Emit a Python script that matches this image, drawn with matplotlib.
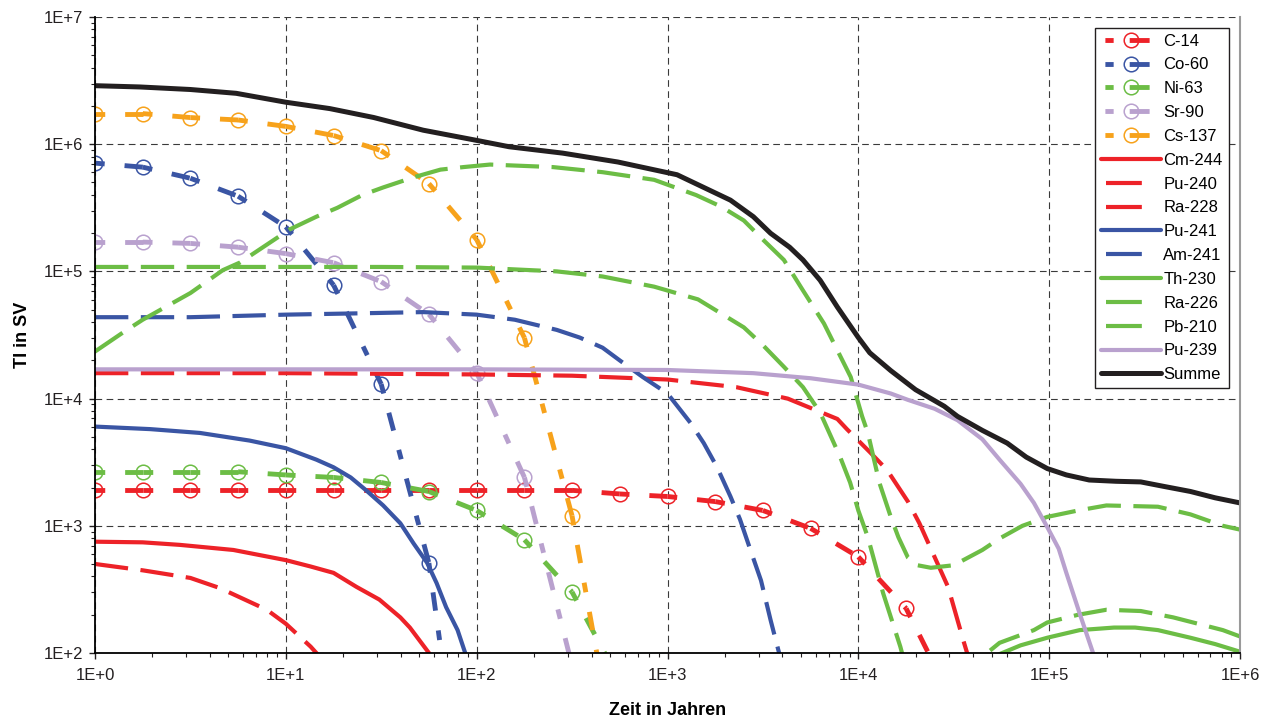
#!/usr/bin/env python3
import numpy as np
import matplotlib
matplotlib.use('Agg')
import matplotlib.pyplot as plt
from matplotlib.lines import Line2D
from matplotlib.ticker import FixedLocator, LogLocator, NullFormatter

plt.rcParams['font.family'] = ['Liberation Sans', 'DejaVu Sans']

# ---------------------------------------------------------------- data
# circle series: values on a quarter-decade time grid (years, SV)
t_grid = [1, 1.78, 3.16, 5.62, 10, 17.8, 31.6, 56.2, 100, 178, 316, 562,
          1000, 1780, 3160, 5620, 10000, 17800, 31600]

c14 = [1900, 1900, 1900, 1900, 1900, 1900, 1900, 1900, 1900, 1900, 1900,
       1780, 1700, 1550, 1320, 955, 570, 224, 40]
co60 = [710000, 660000, 540000, 390000, 224000, 78000, 13000, 510, 1]
ni63 = [2660, 2660, 2660, 2660, 2510, 2400, 2190, 1860, 1320, 776, 302, 60]
sr90 = [170000, 170000, 166000, 155000, 138000, 117000, 83000, 46000,
        16000, 2400, 80]
cs137 = [1740000, 1740000, 1620000, 1550000, 1380000, 1170000, 890000,
         490000, 178000, 30000, 1200, 10]

# line series, read as log10(years) / log10(SV)
cm244_lt = [0, 0.25, 0.445, 0.725, 1.0, 1.13, 1.25, 1.37, 1.49, 1.60, 1.65, 1.75, 1.85]
cm244_lv = [2.875, 2.87, 2.85, 2.81, 2.73, 2.68, 2.63, 2.52, 2.42, 2.28, 2.20, 2.0, 1.75]

pu240_lt = [0, 1, 2, 2.5, 3, 3.36, 3.63, 3.89, 3.94, 4.06, 4.15, 4.26, 4.32,
            4.47, 4.55, 4.62]
pu240_lv = [4.20, 4.20, 4.19, 4.18, 4.15, 4.09, 4.0, 3.84, 3.76, 3.58, 3.44,
            3.19, 3.02, 2.52, 2.10, 1.75]

ra228_lt = [0, 0.25, 0.5, 0.655, 0.90, 1.0, 1.13, 1.25]
ra228_lv = [2.70, 2.65, 2.59, 2.51, 2.34, 2.23, 2.05, 1.85]

pu241_lt = [0, 0.29, 0.55, 0.81, 1.0, 1.16, 1.25, 1.34, 1.42, 1.51, 1.60,
            1.67, 1.74, 1.79, 1.84, 1.90, 1.94, 1.98]
pu241_lv = [3.78, 3.76, 3.73, 3.67, 3.61, 3.52, 3.46, 3.38, 3.28, 3.16, 3.02,
            2.86, 2.71, 2.55, 2.36, 2.18, 2.0, 1.8]

am241_lt = [0, 0.5, 1.0, 1.37, 1.72, 2.0, 2.2, 2.42, 2.54, 2.66, 2.75, 2.87,
            3.0, 3.12, 3.19, 3.26, 3.33, 3.38, 3.43, 3.49, 3.54, 3.59, 3.65]
am241_lv = [4.64, 4.64, 4.66, 4.67, 4.68, 4.66, 4.62, 4.54, 4.48, 4.40, 4.30,
            4.17, 4.04, 3.81, 3.65, 3.46, 3.23, 3.05, 2.83, 2.57, 2.26, 1.97, 1.7]

th230_lt = [4.6, 4.69, 4.85, 4.99, 5.16, 5.34, 5.45, 5.57, 5.74, 5.87, 6.0]
th230_lv = [1.85, 1.96, 2.06, 2.12, 2.18, 2.20, 2.20, 2.18, 2.12, 2.07, 2.01]

ra226_lt = [0, 1, 1.5, 2.0, 2.42, 2.66, 2.93, 3.16, 3.40, 3.50, 3.61, 3.71,
            3.80, 3.905, 3.957, 4.0, 4.05, 4.13, 4.22, 4.3, 4.4, 4.5, 4.6,
            4.65, 4.74, 4.92, 4.99, 5.15, 5.30, 5.48, 5.65, 5.91, 6.0]
ra226_lv = [5.035, 5.035, 5.035, 5.03, 5.0, 4.96, 4.88, 4.78, 4.56, 4.42,
            4.25, 4.09, 3.89, 3.54, 3.34, 3.12, 2.91, 2.47, 2.05, 1.6, 1.4,
            1.6, 1.88, 1.97, 2.08, 2.18, 2.24, 2.30, 2.34, 2.33, 2.28, 2.18, 2.13]

pb210_lt = [0, 0.147, 0.25, 0.5, 0.67, 0.76, 0.90, 1.02, 1.16, 1.27, 1.40,
            1.51, 1.67, 1.81, 1.93, 2.07, 2.40, 2.66, 2.93, 3.15, 3.28, 3.40,
            3.50, 3.61, 3.71, 3.82, 3.89, 3.96, 4.02, 4.05, 4.11, 4.17, 4.21,
            4.26, 4.31, 4.38, 4.50, 4.65, 4.74, 4.86, 4.99, 5.15, 5.30, 5.57,
            5.74, 5.91, 6.0]
pb210_lv = [4.37, 4.52, 4.62, 4.83, 5.01, 5.07, 5.21, 5.33, 5.43, 5.50, 5.60,
            5.66, 5.74, 5.80, 5.82, 5.84, 5.82, 5.78, 5.72, 5.60, 5.51, 5.40,
            5.25, 5.09, 4.85, 4.59, 4.38, 4.17, 3.86, 3.73, 3.34, 3.07, 2.91,
            2.75, 2.69, 2.67, 2.69, 2.81, 2.90, 3.0, 3.07, 3.12, 3.16, 3.15,
            3.09, 3.0, 2.97]

pu239_lt = [0, 1, 2, 3.0, 3.45, 3.75, 4.0, 4.17, 4.26, 4.40, 4.52, 4.65,
            4.74, 4.85, 4.92, 4.99, 5.05, 5.09, 5.16, 5.23, 5.27]
pu239_lv = [4.23, 4.23, 4.23, 4.225, 4.20, 4.16, 4.11, 4.04, 3.99, 3.92, 3.83,
            3.68, 3.52, 3.33, 3.18, 2.99, 2.82, 2.63, 2.31, 2.0, 1.8]

summe_lt = [0, 0.235, 0.5, 0.74, 1.0, 1.23, 1.46, 1.72, 2.0, 2.17, 2.45, 2.74,
            3.05, 3.19, 3.33, 3.45, 3.54, 3.64, 3.71, 3.80, 3.89, 4.0, 4.06,
            4.17, 4.3, 4.45, 4.52, 4.65, 4.78, 4.88, 4.99, 5.09, 5.21, 5.35,
            5.48, 5.6, 5.74, 5.87, 6.0]
summe_lv = [6.46, 6.45, 6.43, 6.40, 6.33, 6.28, 6.21, 6.11, 6.03, 5.98, 5.93,
            5.86, 5.76, 5.66, 5.56, 5.43, 5.30, 5.19, 5.09, 4.93, 4.72, 4.48,
            4.36, 4.22, 4.07, 3.94, 3.86, 3.75, 3.65, 3.54, 3.45, 3.40, 3.36,
            3.35, 3.345, 3.31, 3.27, 3.22, 3.18]

x_ticks = [1, 10, 100, 1000, 1e4, 1e5, 1e6]
x_ticklabels = ['1E+0', '1E+1', '1E+2', '1E+3', '1E+4', '1E+5', '1E+6']
y_ticks = [1e2, 1e3, 1e4, 1e5, 1e6, 1e7]
y_ticklabels = ['1E+2', '1E+3', '1E+4', '1E+5', '1E+6', '1E+7']

# ---------------------------------------------------------------- colours
RED = '#ED2228'
BLUE = '#3A55A4'
GREEN = '#6CBD45'
PURPLE = '#B9A1CE'
ORANGE = '#F7A21B'
BLACK = '#231F20'

fig = plt.figure(figsize=(12.7, 7.24), dpi=100, facecolor='w')
ax = fig.add_axes([95/1270, 1 - 653/724, 1145/1270, 636/724])

handles = []

# dash pattern restarts on every segment between two markers (like Excel)
SEG_DASH = (0, (2.0, 4.1, 3.8, 4.1))
LONG_DASH = (0, (8, 3))

def circles(vals, color, label):
    t = t_grid[:len(vals)]
    for i in range(len(vals) - 1):
        ax.plot(t[i:i + 2], vals[i:i + 2], color=color, lw=3.5, ls=SEG_DASH)
    ax.plot(t, vals, ls='none', marker='o', ms=10.5, mfc='none', mec=color,
            mew=1.1)
    handles.append(Line2D([], [], color=color, lw=3.5,
                          ls=(11.3, (1.7, 3.3, 4.1, 3.0)), marker='o',
                          ms=10.5, mfc='none', mec=color, mew=1.1, label=label))

def curve(lt, lv, color, label, dashed=False, lw=3.0):
    x, y = 10 ** np.array(lt), 10 ** np.array(lv)
    if dashed:
        ax.plot(x, y, color=color, lw=lw, ls=LONG_DASH)
        handles.append(Line2D([], [], color=color, lw=lw,
                              ls=(13.4, (8.6, 6)), label=label))
    else:
        ln, = ax.plot(x, y, color=color, lw=lw, solid_capstyle='round',
                      label=label)
        handles.append(ln)

circles(c14, RED, 'C-14')
circles(co60, BLUE, 'Co-60')
circles(ni63, GREEN, 'Ni-63')
circles(sr90, PURPLE, 'Sr-90')
circles(cs137, ORANGE, 'Cs-137')

curve(cm244_lt, cm244_lv, RED, 'Cm-244')
curve(pu240_lt, pu240_lv, RED, 'Pu-240', dashed=True)
curve(ra228_lt, ra228_lv, RED, 'Ra-228', dashed=True)
curve(pu241_lt, pu241_lv, BLUE, 'Pu-241')
curve(am241_lt, am241_lv, BLUE, 'Am-241', dashed=True)
curve(th230_lt, th230_lv, GREEN, 'Th-230')
curve(ra226_lt, ra226_lv, GREEN, 'Ra-226', dashed=True)
curve(pb210_lt, pb210_lv, GREEN, 'Pb-210', dashed=True)
curve(pu239_lt, pu239_lv, PURPLE, 'Pu-239')
curve(summe_lt, summe_lv, BLACK, 'Summe', lw=3.6)

# ---------------------------------------------------------------- axes
ax.set_xscale('log')
ax.set_yscale('log')
ax.set_xlim(1, 1e6)
ax.set_ylim(1e2, 1e7)

ax.xaxis.set_major_locator(FixedLocator(x_ticks))
ax.set_xticklabels(x_ticklabels)
ax.yaxis.set_major_locator(FixedLocator(y_ticks))
ax.set_yticklabels(y_ticklabels)
ax.xaxis.set_minor_locator(LogLocator(base=10, subs=np.arange(2, 10), numticks=20))
ax.yaxis.set_minor_locator(LogLocator(base=10, subs=np.arange(2, 10), numticks=20))
ax.xaxis.set_minor_formatter(NullFormatter())
ax.yaxis.set_minor_formatter(NullFormatter())

ax.tick_params(which='major', direction='out', length=4.5, width=1.0,
               labelsize=12, colors='#231F20', pad=4)
ax.tick_params(which='minor', direction='out', length=3, width=0.8,
               colors='#231F20')
ax.tick_params(axis='x', which='major', pad=6)

ax.grid(True, which='major', ls=(0, (6, 4)), color='#3a3a3a', lw=0.8)

ax.spines['top'].set_visible(False)
ax.spines['right'].set_color('#9a9a9a')
ax.spines['right'].set_linewidth(1.5)
ax.spines['left'].set_linewidth(1.3)
ax.spines['bottom'].set_linewidth(1.3)

ax.set_xlabel('Zeit in Jahren', fontsize=13, fontweight='bold', labelpad=14)
ax.set_ylabel('TI in SV', fontsize=13, fontweight='bold', labelpad=9)

leg = ax.legend(handles=handles, loc='upper right',
                bbox_to_anchor=(0.99, 0.983), borderaxespad=0, fontsize=12,
                frameon=True, fancybox=False, framealpha=1,
                edgecolor='#231F20', labelspacing=0.53, handlelength=3.6,
                handletextpad=0.15, borderpad=0.35, numpoints=1)
leg.get_frame().set_linewidth(1.0)

fig.savefig('out.png', dpi=100)
